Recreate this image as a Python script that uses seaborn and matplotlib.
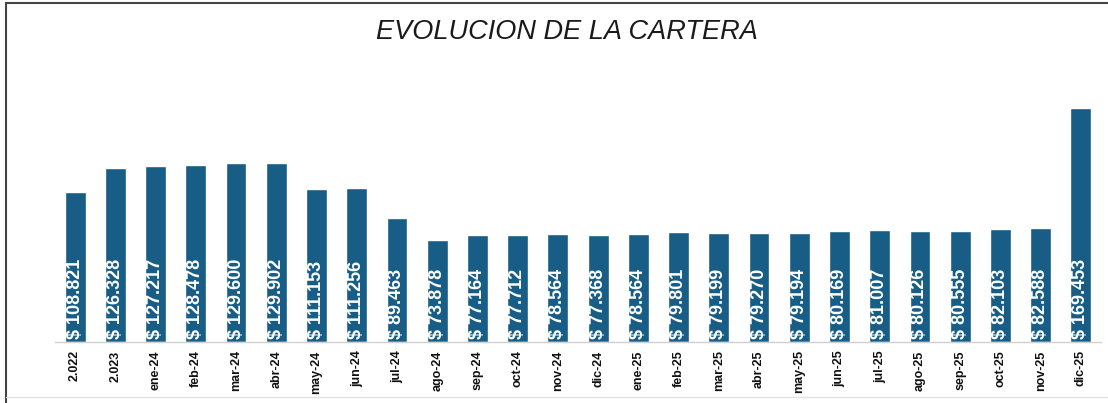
import pandas as pd
import numpy as np
import matplotlib.pyplot as plt
import seaborn as sns
from matplotlib.lines import Line2D

# Data (values in thousands of $)
periods = ['2.022', '2.023',
           'ene-24', 'feb-24', 'mar-24', 'abr-24', 'may-24', 'jun-24',
           'jul-24', 'ago-24', 'sep-24', 'oct-24', 'nov-24', 'dic-24',
           'ene-25', 'feb-25', 'mar-25', 'abr-25', 'may-25', 'jun-25',
           'jul-25', 'ago-25', 'sep-25', 'oct-25', 'nov-25', 'dic-25']
cartera = [108.821, 126.328,
           127.217, 128.478, 129.600, 129.902, 111.153, 111.256,
           89.463, 73.878, 77.164, 77.712, 78.564, 77.368,
           78.564, 79.801, 79.199, 79.270, 79.194, 80.169,
           81.007, 80.126, 80.555, 82.103, 82.588, 169.453]

df = pd.DataFrame({'periodo': periods, 'cartera': cartera})

sns.set_style('white')
plt.rcParams['font.family'] = ['Liberation Sans', 'DejaVu Sans']

fig = plt.figure(figsize=(11.08, 4.03), dpi=100)
ax = fig.add_axes([55 / 1108, 61 / 403, 1046 / 1108, 292 / 403])

sns.barplot(data=df, x='periodo', y='cartera', color='#175d86',
            saturation=1, width=0.52, ax=ax)

# value labels, anchored at the bottom of each bar
for i, v in enumerate(df['cartera']):
    ax.text(i, 2.5, f'$ {v:.3f}', rotation=90, ha='center', va='bottom',
            color='white', fontsize=13, fontweight='bold')

ax.set_xlim(-0.5, len(periods) - 0.5)
ax.set_ylim(0, 211.5)
ax.set_xlabel('')
ax.set_ylabel('')
ax.set_yticks([])
ax.tick_params(axis='x', length=0, pad=6)
plt.setp(ax.get_xticklabels(), rotation=90, fontsize=9, fontweight='bold',
         va='top', ha='center', color='#111111')
for s in ['top', 'right', 'left']:
    ax.spines[s].set_visible(False)
ax.spines['bottom'].set_color('#d0d0d0')
ax.spines['bottom'].set_linewidth(1)

fig.text(567 / 1108, 1 - 32 / 403, 'EVOLUCION DE LA CARTERA', ha='center',
         va='center', fontsize=19.5, fontstyle='italic', color='#1a1a1a')

# outer frame
fig.add_artist(Line2D([6 / 1108, 6 / 1108], [0.0, 1 - 3 / 403],
                      transform=fig.transFigure, color='#444444', lw=1.5))
fig.add_artist(Line2D([6 / 1108, 1.0], [1 - 3 / 403, 1 - 3 / 403],
                      transform=fig.transFigure, color='#444444', lw=1.5))
fig.add_artist(Line2D([6 / 1108, 1.0], [6 / 403, 6 / 403],
                      transform=fig.transFigure, color='#e2e2e2', lw=1))

fig.savefig('out.png', dpi=100)
